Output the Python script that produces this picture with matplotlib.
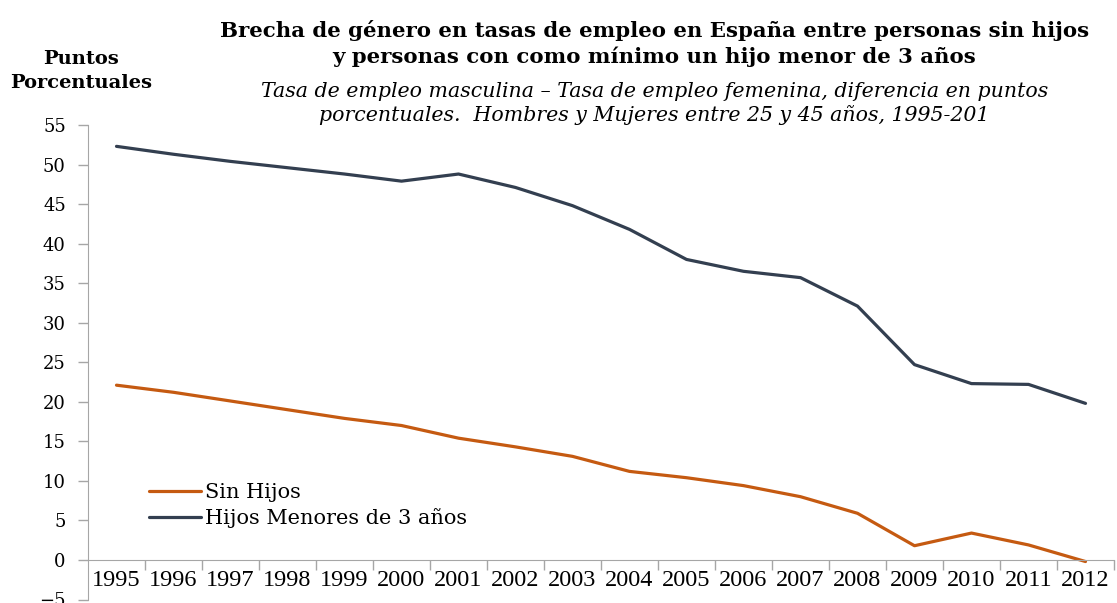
import numpy as np
import matplotlib
matplotlib.use("Agg")
import matplotlib.pyplot as plt

# data
years = ['1995', '1996', '1997', '1998', '1999', '2000', '2001', '2002', '2003',
         '2004', '2005', '2006', '2007', '2008', '2009', '2010', '2011', '2012']
sin_hijos = [22.1, 21.2, 20.1, 19.0, 17.9, 17.0, 15.4, 14.3, 13.1,
             11.2, 10.4, 9.4, 8.0, 5.9, 1.8, 3.4, 1.9, -0.2]
hijos_menores_3 = [52.3, 51.3, 50.4, 49.6, 48.8, 47.9, 48.8, 47.1, 44.8,
                   41.8, 38.0, 36.5, 35.7, 32.1, 24.7, 22.3, 22.2, 19.8]

orange = '#C55A11'
navy = '#333F50'
gray = '#A6A6A6'

fig = plt.figure(figsize=(11.17, 6.03), dpi=100)
ax = fig.add_axes([88 / 1117, 3.5 / 603, 1026 / 1117, 474.5 / 603])

x = np.arange(len(years))
ax.plot(x, sin_hijos, color=orange, lw=2.3, label='Sin Hijos', solid_capstyle='round')
ax.plot(x, hijos_menores_3, color=navy, lw=2.3, label='Hijos Menores de 3 años',
        solid_capstyle='round')

ax.set_xlim(-0.5, len(years) - 0.5)
ax.set_ylim(-5, 55)

# axes styling, excel-like
for s in ['top', 'right']:
    ax.spines[s].set_visible(False)
ax.spines['left'].set_color(gray)
ax.spines['bottom'].set_color(gray)
ax.spines['bottom'].set_position(('data', 0))

ax.set_yticks(np.arange(-5, 56, 5))
ax.tick_params(axis='y', colors=gray, length=7, width=1, labelcolor='black',
               labelsize=13, pad=9)
for lab in ax.get_yticklabels():
    lab.set_fontfamily('DejaVu Serif')

ax.set_xticks(x)
ax.set_xticklabels(years, fontfamily='Liberation Serif', fontsize=17.5)
ax.set_xticks(np.arange(-0.5, len(years), 1)[1:], minor=True)
ax.tick_params(axis='x', which='major', length=0, pad=7)
ax.tick_params(axis='x', which='minor', length=7, color=gray, width=1)

leg = ax.legend(loc='upper left', bbox_to_anchor=(0.041, 0.285), frameon=False,
                handlelength=2.5, handletextpad=0.2, labelspacing=0.3,
                prop={'family': 'DejaVu Serif', 'size': 15})

fig.text(0.586, 0.928, 'Brecha de género en tasas de empleo en España entre personas sin hijos\n'
         'y personas con como mínimo un hijo menor de 3 años',
         ha='center', va='center', fontfamily='DejaVu Serif', fontweight='bold',
         fontsize=15.3, linespacing=1.3)
fig.text(0.586, 0.829, 'Tasa de empleo masculina – Tasa de empleo femenina, diferencia en puntos\n'
         'porcentuales.  Hombres y Mujeres entre 25 y 45 años, 1995-201',
         ha='center', va='center', fontfamily='DejaVu Serif', fontstyle='italic',
         fontsize=14.8, linespacing=1.25)
fig.text(0.0725, 0.882, 'Puntos\nPorcentuales', ha='center', va='center',
         fontfamily='DejaVu Serif', fontweight='bold', fontsize=14, linespacing=1.45)

fig.savefig('out.png', dpi=100)
